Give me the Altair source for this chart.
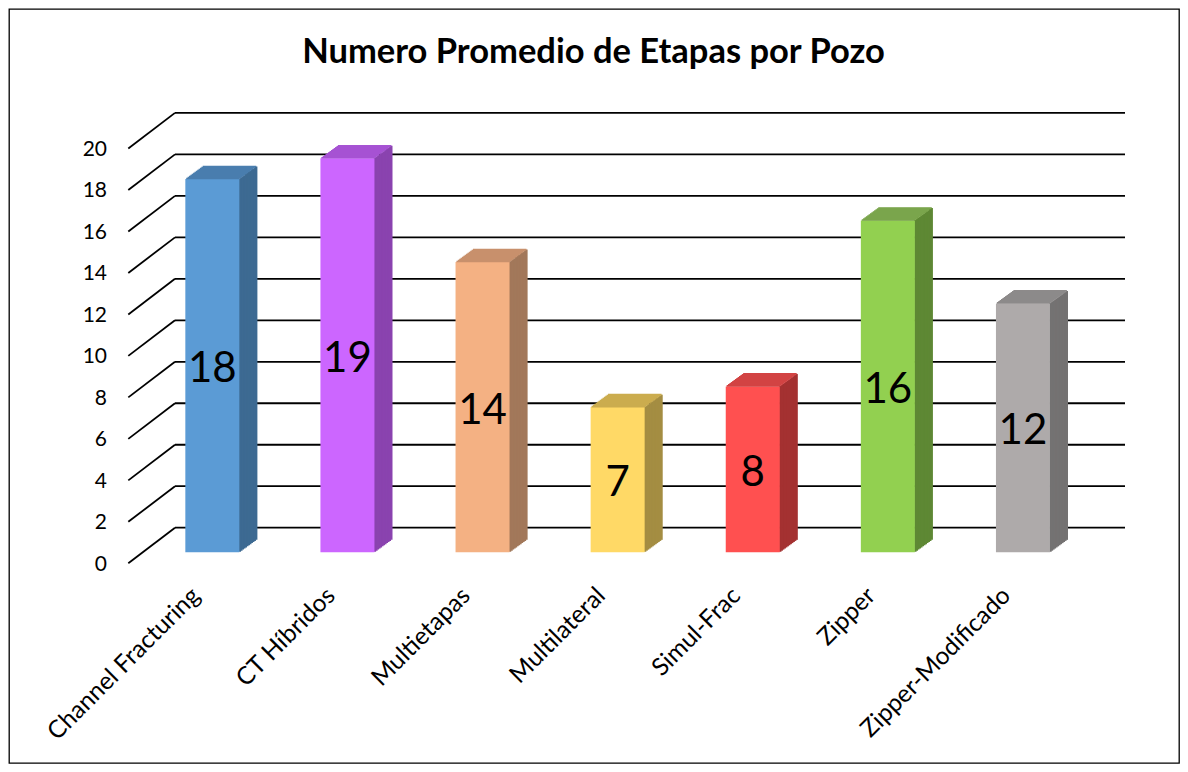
import altair as alt
import pandas as pd

categories = ["Channel Fracturing", "CT Híbridos", "Multietapas", "Multilateral",
              "Simul-Frac", "Zipper", "Zipper-Modificado"]
values = [18, 19, 14, 7, 8, 16, 12]
y_ticks = [0, 2, 4, 6, 8, 10, 12, 14, 16, 18, 20]
title_text = "Numero Promedio de Etapas por Pozo"

front_colors = ["#5B9BD5", "#CC66FF", "#F4B183", "#FFD966", "#FF5050", "#92D050", "#AEAAAA"]
top_colors = ["#4A7EAE", "#A653D3", "#C8906C", "#CBAC4E", "#D24343", "#729F40", "#8D8A8A"]
side_colors = ["#3D6A92", "#8A43AF", "#A2785A", "#A48D42", "#A43131", "#5E8834", "#747272"]

df = pd.DataFrame({"cat": categories, "value": values, "idx": list(range(len(categories)))})
ticks = pd.DataFrame({"v": y_ticks})
title_df = pd.DataFrame({"t": [title_text]})

FONT = "Lato"
W, H = 1170, 754
BAR_W = 54          # front face width, px
DX, DY = 18, 13     # 3-D depth, px
BACK = -24.6        # back wall shift, px
WALL = 11           # left wall front edge shift, px

X_DOM = [-1.468, 7.118]
Y_DOM = [-10.159, 26.196]
PX_X = W / (X_DOM[1] - X_DOM[0])   # px per category step

xs = alt.Scale(domain=X_DOM, nice=False, zero=False)
ys = alt.Scale(domain=Y_DOM, nice=False, zero=False)

X = alt.X("idx:Q", scale=xs, axis=None)
Y = alt.Y("value:Q", scale=ys, axis=None)


def cscale(rng):
    return alt.Color("cat:N", scale=alt.Scale(domain=categories, range=rng), legend=None)


grid = alt.Chart(ticks).mark_rule(color="#000000", strokeWidth=1.8, yOffset=BACK).encode(
    x=alt.value(166), x2=alt.value(1116), y=alt.Y("v:Q", scale=ys, axis=None)
)
diag = alt.Chart(ticks).mark_rule(color="#000000", strokeWidth=1.8, yOffset=WALL, y2Offset=BACK).encode(
    x=alt.value(119.3), x2=alt.value(166), y=alt.Y("v:Q", scale=ys, axis=None), y2=alt.Y2("v")
)

# side face: thin vertical strips, each shifted up along the depth slant
N_SIDE = 12
side_layers = []
for i in range(N_SIDE):
    s = (i + 0.5) / N_SIDE
    side_layers.append(
        alt.Chart(df).transform_calculate(
            xs_=f"datum.idx + {(BAR_W / 2 + DX * s) / PX_X}"
        ).mark_rule(
            strokeWidth=DX / N_SIDE + 0.9, opacity=1, yOffset=-DY * s, y2Offset=-DY * s
        ).encode(
            x=alt.X("xs_:Q", scale=xs, axis=None), y=Y, y2=alt.datum(0), color=cscale(side_colors)
        )
    )

front = alt.Chart(df).mark_bar(size=BAR_W, opacity=1).encode(
    x=X, y=Y, y2=alt.datum(0), color=cscale(front_colors)
)

# top face: thin horizontal strips, each shifted right along the depth slant
N_TOP = 13
top_layers = []
for j in range(N_TOP):
    t = (j + 0.5) / N_TOP
    top_layers.append(
        alt.Chart(df).transform_calculate(
            xa_=f"datum.idx + {(-BAR_W / 2 + DX * t) / PX_X}",
            xb_=f"datum.idx + {(BAR_W / 2 + DX * t) / PX_X}",
        ).mark_rule(
            strokeWidth=DY / N_TOP + 0.6, opacity=1, yOffset=-DY * t
        ).encode(
            x=alt.X("xa_:Q", scale=xs, axis=None), x2=alt.X2("xb_"), y=Y, color=cscale(top_colors)
        )
    )

labels = alt.Chart(df).transform_calculate(half="datum.value / 2").mark_text(
    font=FONT, fontSize=42, color="#000000", align="center", baseline="alphabetic", dy=16.5
).encode(x=X, y=alt.Y("half:Q", scale=ys, axis=None), text=alt.Text("value:Q"))

ylabels = alt.Chart(ticks).mark_text(
    font=FONT, fontSize=21, color="#000000", align="right", baseline="middle", dy=WALL + 1.5
).encode(x=alt.value(98), y=alt.Y("v:Q", scale=ys, axis=None), text=alt.Text("v:Q"))

xlabels = alt.Chart(df).mark_text(
    font=FONT, fontSize=24.5, color="#000000", align="right", baseline="middle", angle=315,
    dx=-39.6, dy=17.0,
).encode(x=X, y=alt.datum(0), text="cat:N")

title = alt.Chart(title_df).mark_text(
    font=FONT, fontSize=34.5, fontWeight="bold", color="#000000", align="center", baseline="alphabetic"
).encode(x=alt.value(584.5), y=alt.value(54), text="t:N")

chart = alt.layer(grid, diag, *side_layers, front, *top_layers, labels, ylabels, xlabels, title).resolve_scale(
    color="independent"
).properties(
    width=W, height=H, padding=1, autosize=alt.AutoSizeParams(type="none"), background="white"
).configure_view(stroke="#000000", strokeWidth=1.3, fill="white")

chart.save("out.html", embed_options={"renderer": "svg", "actions": False})
